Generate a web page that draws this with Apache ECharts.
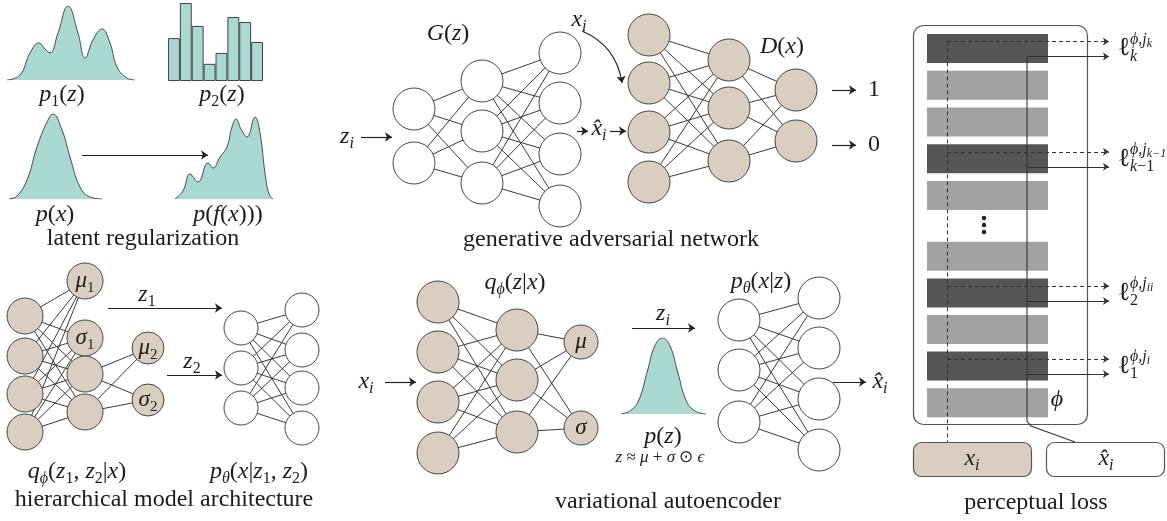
<!DOCTYPE html>
<html><head><meta charset="utf-8">
<script src="https://cdn.jsdelivr.net/npm/echarts@6/dist/echarts.min.js"></script>
<style>html,body{margin:0;padding:0;background:#fff}#c{width:1167px;height:521px}</style>
</head><body>
<div id="c"></div>
<script>
// ================= DATA =================
// latent regularization densities: [z, density]
const p1Density = [[0,0],[13,5],[23,27],[32,37],[38,31],[43,27],[51,47],[61,74],[71,47],[78,22],[86,40],[95,51],[103,37],[110,13],[120,2],[128,0]];
const p2Hist = [0.55, 1.0, 0.705, 0.22, 0.36, 0.82, 0.756, 0.5];
const pxDensity = [[0,0],[8,3],[18,19],[28,52],[38,77],[44,85],[53,69],[61,42],[71,12],[81,2],[93,0]];
const pfxDensity = [[0,0],[8,8],[15,25],[23,17],[33,36],[38,31],[45,42],[52,52],[57,72],[61,80],[66,70],[72,62],[80,82],[85,66],[90,26],[94,5],[98,0]];
const pzDensity = [[0,0],[8,3],[16,13],[24,42],[31,68],[38,76],[45,68],[52,42],[60,13],[68,3],[78,0]];

// networks: node labels per layer
const ganGenLayers  = [['',''], ['','',''], ['','','','']];
const ganDiscLayers = [['','','',''], ['','',''], ['','']];
const hierEncLayers = [['','','',''], ['μ1','σ1','',''], ['μ2','σ2']];
const hierEncLinks  = [null, [2,3]];          // source nodes feeding the next layer (null = all)
const hierDecLayers = [['','',''], ['','','','']];
const vaeEncLayers  = [['','','',''], ['','',''], ['μ','σ']];
const vaeDecLayers  = [['','',''], ['','','','']];

// perceptual loss network layers (top to bottom)
const perceptualLayers = ['dark','light','light','dark','light','light','dark','light','dark','light'];
const lossLabels = [
  {sup:'ϕ,j', supSub:'k',  sub:'{pi|k}'},
  {sup:'ϕ,j', supSub:'k−1', sub:'{pi|k}{pn|−1}'},
  {sup:'ϕ,j', supSub:'ii', sub:'{pn|2}'},
  {sup:'ϕ,j', supSub:'i',  sub:'{pn|1}'}
];

// ================= STYLE / LAYOUT =================
const FF = 'Liberation Serif';
const INK = '#1c1c1c';
const TEAL = '#a9d9d1';
const TAN = '#d9cebf';
const EDGE = '#3a3a3a';
// token styles: size, italic, vertical offset
const TOK = {
  i:{size:24, it:true, dy:0},  n:{size:24, it:false, dy:0},
  s:{size:16, it:true, dy:7},  sn:{size:16, it:false, dy:7},
  c:{size:24, it:false, dy:0},
  ni:{size:23, it:true, dy:0}, nsn:{size:15, it:false, dy:7},
  ai:{size:17, it:true, dy:0}, an:{size:17, it:false, dy:0},
  l:{size:26, it:false, dy:0},
  pi:{size:16, it:true, dy:0}, pn:{size:16, it:false, dy:0},
  ps:{size:12, it:true, dy:4}
};

const NETS = [
  {layers:ganGenLayers,  x:[414,482,560], y:[[109,163],[81,131,183],[53,103,154,206]], r:[21,21,21], fill:'#fff'},
  {layers:ganDiscLayers, x:[649,729,796], y:[[35,83,132,182],[60,108,161],[90,141]], r:[21,21,21], fill:TAN},
  {layers:hierEncLayers, x:[25,85,148], y:[[316,356,394,432],[281,338,374,412],[348,400]], r:[18,18,16], fill:TAN, links:hierEncLinks},
  {layers:hierDecLayers, x:[241,302], y:[[328,368,408],[310,350,388,428]], r:[17,17], fill:'#fff'},
  {layers:vaeEncLayers,  x:[438,517,581], y:[[302,352,402,453],[330,380,432],[342,428]], r:[21,21,17], fill:TAN},
  {layers:vaeDecLayers,  x:[739,819], y:[[320,370,422],[298,348,399,450]], r:[21,21], fill:'#fff'}
];

const PB = {left:927, width:121, groups:[{top:30,height:184,count:5},{top:238,height:183,count:5}]};
function barCenter(i){
  const g = i < PB.groups[0].count ? PB.groups[0] : PB.groups[1];
  const k = i < PB.groups[0].count ? i : i - PB.groups[0].count;
  return g.top + (k + 0.5) * g.height / g.count;
}

function buildOption(){
const grids = [], xAxes = [], yAxes = [];
function addGrid(g, xa, ya){
  grids.push(Object.assign({containLabel:false, outerBoundsMode:'none', show:false}, g));
  const gi = grids.length - 1;
  xAxes.push(Object.assign({gridIndex:gi, show:false}, xa));
  yAxes.push(Object.assign({gridIndex:gi, show:false}, ya));
  return gi;
}
const G0 = addGrid({left:0, top:0, width:1167, height:521}, {type:'value',min:0,max:1167}, {type:'value',min:0,max:521,inverse:true});
const G1 = addGrid({left:7, top:6, width:128, height:74}, {type:'value',min:0,max:128}, {type:'value',min:0,max:74});
const G2 = addGrid({left:168, top:3, width:95, height:78}, {type:'category',data:p2Hist.map((v,i)=>String(i))}, {type:'value',min:0,max:1});
const G3 = addGrid({left:9, top:114, width:93, height:85}, {type:'value',min:0,max:93}, {type:'value',min:0,max:85});
const G4 = addGrid({left:175, top:117, width:98, height:82}, {type:'value',min:0,max:98}, {type:'value',min:0,max:82});
const G5 = addGrid({left:621, top:338, width:85, height:76}, {type:'value',min:0,max:78}, {type:'value',min:0,max:76});
const G6 = addGrid({left:PB.left, top:PB.groups[0].top, width:PB.width, height:PB.groups[0].height}, {type:'value',min:0,max:1}, {type:'category',inverse:true,data:perceptualLayers.slice(0,5)});
const G7 = addGrid({left:PB.left, top:PB.groups[1].top, width:PB.width, height:PB.groups[1].height}, {type:'value',min:0,max:1}, {type:'category',inverse:true,data:perceptualLayers.slice(5)});

const series = [];
function density(gi, data){
  series.push({type:'line', xAxisIndex:gi, yAxisIndex:gi, data:data, smooth:0.45, symbol:'none',
    lineStyle:{color:'#4a4a4a', width:1}, areaStyle:{color:TEAL, opacity:1}, silent:true, z:2});
}
density(G1, p1Density); density(G3, pxDensity); density(G4, pfxDensity); density(G5, pzDensity);
series.push({type:'bar', xAxisIndex:G2, yAxisIndex:G2, data:p2Hist, barCategoryGap:'0%',
  itemStyle:{color:TEAL, borderColor:'#444', borderWidth:1}, silent:true, z:2});
const barColor = t => t === 'dark' ? '#565656' : '#a2a2a2';
series.push({type:'bar', xAxisIndex:G6, yAxisIndex:G6, barWidth:29, silent:true, z:2,
  data: perceptualLayers.slice(0,5).map(t => ({value:1, itemStyle:{color:barColor(t)}}))});
series.push({type:'bar', xAxisIndex:G7, yAxisIndex:G7, barWidth:29, silent:true, z:2,
  data: perceptualLayers.slice(5).map(t => ({value:1, itemStyle:{color:barColor(t)}}))});

// text layout: each token becomes its own text element, measured with the same font
const graphics = [
  {type:'rect', z:1, silent:true, shape:{x:913.5, y:25.5, width:174, height:399, r:10}, style:{fill:'none', stroke:'#555', lineWidth:1.2}},
  {type:'rect', z:1, silent:true, shape:{x:913.5, y:442.5, width:118, height:34, r:8}, style:{fill:TAN, stroke:'#555', lineWidth:1.2}},
  {type:'rect', z:1, silent:true, shape:{x:1046.5, y:442.5, width:118, height:34, r:8}, style:{fill:'#fff', stroke:'#555', lineWidth:1.2}}
];
const mctx = document.createElement('canvas').getContext('2d');
function fontOf(st){ return (st.it ? 'italic ' : 'normal ') + st.size + 'px "' + FF + '"'; }
function T(x, y, f, align){
  const toks = [];
  f.replace(/\{([a-z]+)\|([^}]*)\}/g, (m, k, t) => { toks.push({st:TOK[k], t:t}); return m; });
  let w = 0;
  toks.forEach(tk => { mctx.font = fontOf(tk.st); tk.w = mctx.measureText(tk.t).width; w += tk.w; });
  let cx = (align === 'left') ? x : x - w / 2;
  toks.forEach(tk => {
    graphics.push({type:'text', z:100, silent:true,
      style:{text:tk.t, x:cx, y:y + tk.st.dy, fontFamily:FF, fontSize:tk.st.size,
             fontStyle:tk.st.it ? 'italic' : 'normal', fill:INK, align:'left', verticalAlign:'middle'}});
    cx += tk.w;
  });
}

// network nodes and edges
const nodeData = [], edgeData = [];
NETS.forEach(net => {
  net.layers.forEach((layer, li) => {
    layer.forEach((lab, ni) => {
      const cx = net.x[li], cy = net.y[li][ni];
      nodeData.push({value:[cx, cy], symbolSize:2*net.r[li],
        itemStyle:{color:net.fill, borderColor:'#474747', borderWidth:1, opacity:1}});
      if (lab) T(cx, cy, '{ni|' + lab[0] + '}' + (lab.length > 1 ? '{nsn|' + lab.slice(1) + '}' : ''));
    });
    if (li < net.layers.length - 1) {
      const src = (net.links && net.links[li]) || layer.map((_, k) => k);
      src.forEach(a => net.layers[li+1].forEach((_, b) => {
        edgeData.push({coords:[[net.x[li], net.y[li][a]], [net.x[li+1], net.y[li+1][b]]]});
      }));
    }
  });
});
series.push({type:'lines', coordinateSystem:'cartesian2d', xAxisIndex:G0, yAxisIndex:G0, data:edgeData,
  lineStyle:{color:EDGE, width:1, opacity:1}, silent:true, z:3});
series.push({type:'scatter', xAxisIndex:G0, yAxisIndex:G0, data:nodeData, silent:true, z:4, itemStyle:{opacity:1}});

// arrows
const arrows = [
  {coords:[[82,155],[208,155]]},
  {coords:[[361,137],[392,137]]},
  {coords:[[582,31],[622,83]], lineStyle:{curveness:0.28}},
  {coords:[[577,131],[588,131]]},
  {coords:[[610,131],[626,131]]},
  {coords:[[832,90],[856,90]]},
  {coords:[[832,145],[856,145]]},
  {coords:[[108,308],[222,308]]},
  {coords:[[167,375],[222,375]]},
  {coords:[[385,382],[416,382]]},
  {coords:[[632,328],[695,328]]},
  {coords:[[833,382],[866,382]]}
];
series.push({type:'lines', coordinateSystem:'cartesian2d', xAxisIndex:G0, yAxisIndex:G0, data:arrows,
  symbol:['none','arrow'], symbolSize:7, lineStyle:{color:'#222', width:1.2, opacity:1}, silent:true, z:5});

// perceptual loss connectors
const darkIdx = perceptualLayers.map((t,i)=>t==='dark'?i:-1).filter(i=>i>=0);
const DX = 947, SX = 1027, AX = 1109;
const dashed = [{coords:[[DX, barCenter(darkIdx[0]) - 7], [DX, 442]]}];
const dashedArrows = darkIdx.map(i => ({coords:[[DX, barCenter(i) - 7], [AX, barCenter(i) - 7]]}));
const solidArrows = darkIdx.map(i => ({coords:[[SX, barCenter(i) + 8], [AX, barCenter(i) + 8]]}));
series.push({type:'lines', coordinateSystem:'cartesian2d', xAxisIndex:G0, yAxisIndex:G0, data:dashed,
  lineStyle:{color:'#333', width:1, type:[4,3], opacity:1}, silent:true, z:5});
series.push({type:'lines', coordinateSystem:'cartesian2d', xAxisIndex:G0, yAxisIndex:G0, data:dashedArrows,
  symbol:['none','arrow'], symbolSize:6, lineStyle:{color:'#333', width:1, type:[4,3], opacity:1}, silent:true, z:5});
series.push({type:'lines', coordinateSystem:'cartesian2d', xAxisIndex:G0, yAxisIndex:G0, data:solidArrows,
  symbol:['none','arrow'], symbolSize:6, lineStyle:{color:'#333', width:1.1, opacity:1}, silent:true, z:5});
series.push({type:'lines', coordinateSystem:'cartesian2d', xAxisIndex:G0, yAxisIndex:G0, polyline:true,
  data:[{coords:[[SX, barCenter(darkIdx[0]) + 8],[SX, 421],[1031, 426],[1075, 442]]}],
  lineStyle:{color:'#333', width:1.1, opacity:1}, silent:true, z:5});
// ellipsis dots between layers
series.push({type:'scatter', xAxisIndex:G0, yAxisIndex:G0, data:[[984,218],[984,225],[984,232]], symbolSize:4.5,
  itemStyle:{color:'#222', opacity:1}, silent:true, z:6});

T(62, 95, '{i|p}{sn|1}{n|(}{i|z}{n|)}');
T(222, 95, '{i|p}{sn|2}{n|(}{i|z}{n|)}');
T(55, 215, '{i|p}{n|(}{i|x}{n|)}');
T(228, 215, '{i|p}{n|(}{i|f}{n|(}{i|x}{n|)))}');
T(143, 239, '{c|latent regularization}');
T(448, 34, '{i|G}{n|(}{i|z}{n|)}');
T(782, 47, '{i|D}{n|(}{i|x}{n|)}');
T(579, 20, '{i|x}{s|i}');
T(347, 137, '{i|z}{s|i}');
T(599, 129, '{i|x\u0302}{s|i}');
T(874, 90, '{n|1}');
T(874, 145, '{n|0}');
T(611, 240, '{c|generative adversarial network}');
T(147, 295, '{i|z}{sn|1}');
T(192, 362, '{i|z}{sn|2}');
T(77, 472, '{i|q}{s|ϕ}{n|(}{i|z}{sn|1}{n|, }{i|z}{sn|2}{n||}{i|x}{n|)}');
T(259, 472, '{i|p}{s|θ}{n|(}{i|x}{n||}{i|z}{sn|1}{n|, }{i|z}{sn|2}{n|)}');
T(164, 500, '{c|hierarchical model architecture}');
T(366, 382, '{i|x}{s|i}');
T(515, 283, '{i|q}{s|ϕ}{n|(}{i|z}{n||}{i|x}{n|)}');
T(663, 314, '{i|z}{s|i}');
T(663, 437, '{i|p}{n|(}{i|z}{n|)}');
T(660, 458, '{ai|z}{an| ≈ }{ai|μ}{an| + }{ai|σ}{an| ⊙ }{ai|ϵ}');
T(761, 282, '{i|p}{s|θ}{n|(}{i|x}{n||}{i|z}{n|)}');
T(880, 382, '{i|x\u0302}{s|i}');
T(668, 502, '{c|variational autoencoder}');
T(972, 459, '{i|x}{s|i}');
T(1106, 459, '{i|x\u0302}{s|i}');
T(1057, 400, '{i|ϕ}');
T(1036, 503, '{c|perceptual loss}');
darkIdx.forEach((bi, k) => {
  const yc = barCenter(bi);
  const L = lossLabels[k];
  T(1124, yc, '{l|ℓ}');
  T(1130, yc - 9, '{pi|' + L.sup + '}{ps|' + L.supSub + '}', 'left');
  T(1130, yc + 8, L.sub, 'left');
});

return {
  animation:false,
  backgroundColor:'#fff',
  grid:grids, xAxis:xAxes, yAxis:yAxes,
  tooltip:{show:false},
  graphic:graphics,
  series:series
};
}
const chart = echarts.init(document.getElementById('c'));
chart.setOption(buildOption());
if (document.fonts && document.fonts.load) {
  Promise.all([
    document.fonts.load('24px "' + FF + '"'),
    document.fonts.load('italic 24px "' + FF + '"')
  ]).then(() => chart.setOption(buildOption(), true)).catch(() => {});
}
</script>
</body></html>
